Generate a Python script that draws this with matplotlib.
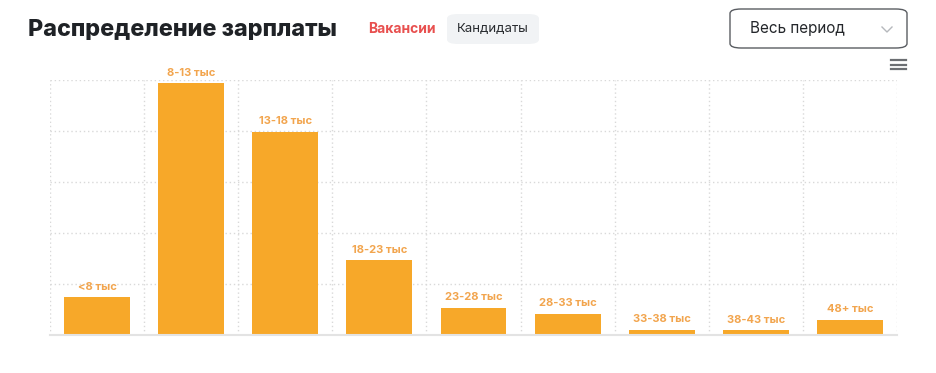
import matplotlib.pyplot as plt
from matplotlib.patches import FancyBboxPatch

# данные
categories = ['<8 тыс', '8-13 тыс', '13-18 тыс', '18-23 тыс', '23-28 тыс',
              '28-33 тыс', '33-38 тыс', '38-43 тыс', '48+ тыс']
values = [148, 987, 796, 293, 107, 84, 20, 18, 59]
y_ticks = [0, 200, 400, 600, 800, 1000]

plt.rcParams['font.family'] = ['Inter', 'DejaVu Sans']

W, H = 937, 373
fig = plt.figure(figsize=(W / 100, H / 100), dpi=100)
fig.patch.set_facecolor('white')

def px(x, y):
    return x / W, 1 - y / H

# оси графика
ax = fig.add_axes([50 / W, 1 - 335 / H, (897 - 50) / W, (335 - 80) / H])
x = list(range(len(categories)))
ax.bar(x, values, width=0.70, color='#F7A829', zorder=3)
for xi, v, lab in zip(x, values, categories):
    ax.annotate(lab, (xi, v), xytext=(0, 4), textcoords='offset points',
                ha='center', va='bottom', fontsize=8, fontweight='bold',
                color='#F2A54E', annotation_clip=False, zorder=4)

ax.set_xlim(-0.5, len(categories) - 0.5)
ax.set_ylim(0, 1000)
ax.set_yticks(y_ticks)
ax.set_xticks([i - 0.5 for i in range(len(categories) + 1)])
ax.tick_params(length=0, labelbottom=False, labelleft=False)
ax.grid(True, color='#d9d9d9', linestyle=(0, (1, 2)), linewidth=1, zorder=0)
for s in ax.spines.values():
    s.set_visible(False)
ax.axhline(0, color='#e3e3e3', linewidth=1.5, zorder=5, clip_on=False)

# заголовок и переключатели
fig.text(*px(28, 30), 'Распределение зарплаты', fontsize=16.8, fontweight='heavy',
         color='#1f2226', va='center', ha='left')
fig.text(*px(368, 29), 'Вакансии', fontsize=10, fontweight='bold',
         color='#E8504F', va='center', ha='left')
fig.patches.append(FancyBboxPatch(px(447, 44), 92 / W, 30 / H,
                                  boxstyle='round,pad=0,rounding_size=0.012',
                                  transform=fig.transFigure, facecolor='#f1f3f5',
                                  edgecolor='none'))
fig.text(*px(493, 29), 'Кандидаты', fontsize=9.5, color='#2a2d31',
         va='center', ha='center')

# выпадающий список периода
fig.patches.append(FancyBboxPatch(px(730, 48), 177 / W, 39 / H,
                                  boxstyle='round,pad=0,rounding_size=0.012',
                                  transform=fig.transFigure, facecolor='white',
                                  edgecolor='#5a5d62', linewidth=1))
fig.text(*px(750, 29), 'Весь период', fontsize=11, color='#24272b',
         va='center', ha='left')
fig.lines.append(plt.Line2D([882 / W, 887 / W, 892 / W],
                            [1 - 27 / H, 1 - 32 / H, 1 - 27 / H],
                            transform=fig.transFigure, color='#b5b8bc', linewidth=1))

# иконка меню
for yy in (60, 64.5, 69):
    fig.lines.append(plt.Line2D([891 / W, 906 / W], [1 - yy / H, 1 - yy / H],
                                transform=fig.transFigure, color='#6b6e72',
                                linewidth=1.6))

fig.savefig('out.png', dpi=100, facecolor='white')
